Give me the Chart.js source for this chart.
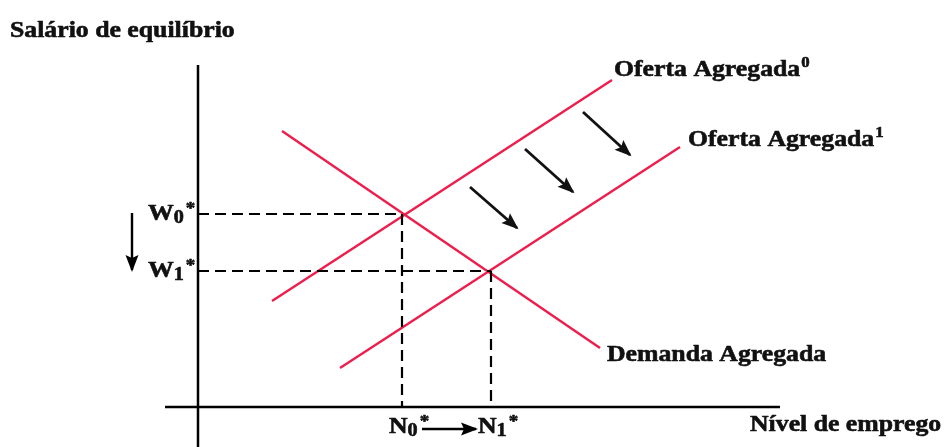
<!DOCTYPE html>
<html>
<head>
<meta charset="utf-8">
<script src="https://cdn.jsdelivr.net/npm/chart.js@4/dist/chart.umd.min.js"></script>
<style>
  body { margin: 0; background: #fff; }
  #wrap { width: 945px; height: 447px; }
</style>
</head>
<body>
<div id="wrap"><canvas id="c"></canvas></div>
<script>
// curves (x = nível de emprego, y = salário)
const oferta0 = [{x: 3.7, y: 5.3}, {x: 20.7, y: 16.35}];
const oferta1 = [{x: 7.1, y: 1.95}, {x: 24.1, y: 13.0}];
const demanda = [{x: 4.2, y: 13.8}, {x: 20.1, y: 2.95}];

// equilibrium values
const emprego = [10.2, 14.65];   // N0*, N1*
const salario = [9.65, 6.8];     // W0*, W1*

// axes extents
const eixoY = [{x: 0, y: -2.2}, {x: 0, y: 17.1}];
const eixoX = [{x: -1.65, y: 0}, {x: 29.1, y: 0}];

// arrows showing the shift of the supply curve
const setasOferta = [
    [{x: 13.6, y: 11.0}, {x: 15.95, y: 8.95}],
    [{x: 16.35, y: 12.9}, {x: 18.75, y: 10.75}],
    [{x: 19.25, y: 14.75}, {x: 21.6, y: 12.6}]
];
const setaSalario = [{x: -3.3, y: 9.7}, {x: -3.3, y: 6.85}];
const setaEmprego = [{x: 11.2, y: -1.1}, {x: 13.9, y: -1.1}];

const RED = '#ee1d4b';

function seg(data, color, width, dash, arrow) {
    return {
        data: data, showLine: true, borderColor: color, borderWidth: width,
        borderDash: dash || [], pointRadius: 0, fill: false, arrow: !!arrow
    };
}

const datasets = [
    seg(eixoY, '#000', 2.5),
    seg(eixoX, '#000', 2.5),
    seg([{x: 0, y: salario[0]}, {x: emprego[0], y: salario[0]}], '#000', 2.2, [11, 6]),
    seg([{x: emprego[0], y: salario[0]}, {x: emprego[0], y: 0}], '#000', 2.2, [11, 6]),
    seg([{x: 0, y: salario[1]}, {x: emprego[1], y: salario[1]}], '#000', 2.2, [11, 6]),
    seg([{x: emprego[1], y: salario[1]}, {x: emprego[1], y: 0}], '#000', 2.2, [11, 6]),
    seg(oferta0, RED, 2.4),
    seg(oferta1, RED, 2.4),
    seg(demanda, RED, 2.4),
    seg(setaSalario, '#000', 2.4, null, true),
    seg(setaEmprego, '#000', 2.6, null, true)
];
setasOferta.forEach(s => datasets.push(seg(s, '#111', 2.8, null, true)));

const SX = 1.12;
function txt(ctx, s, x, y, size, weight) {
    ctx.save();
    ctx.font = (weight || 'bold') + ' ' + size + 'px "Liberation Serif", "Times New Roman", serif';
    ctx.translate(x, y);
    ctx.scale(SX, 1);
    ctx.fillStyle = '#111';
    ctx.strokeStyle = '#111';
    ctx.lineWidth = 0.6;
    ctx.lineJoin = 'round';
    ctx.textBaseline = 'alphabetic';
    ctx.fillText(s, 0, 0);
    ctx.strokeText(s, 0, 0);
    const w = ctx.measureText(s).width * SX;
    ctx.restore();
    return w;
}

const labels = {
    id: 'labels',
    afterDatasetsDraw(chart) {
        const ctx = chart.ctx;
        const xs = chart.scales.x, ys = chart.scales.y;
        const px = v => xs.getPixelForValue(v);
        const py = v => ys.getPixelForValue(v);

        // arrow heads
        chart.data.datasets.forEach((ds, i) => {
            if (!ds.arrow) return;
            const pts = chart.getDatasetMeta(i).data;
            const a = pts[0], b = pts[pts.length - 1];
            const ang = Math.atan2(b.y - a.y, b.x - a.x);
            const L = 15, W = 6.5;
            ctx.save();
            ctx.fillStyle = ds.borderColor;
            ctx.translate(b.x, b.y);
            ctx.rotate(ang);
            ctx.beginPath();
            ctx.moveTo(2, 0);
            ctx.lineTo(-L, -W);
            ctx.lineTo(-L + 3, 0);
            ctx.lineTo(-L, W);
            ctx.closePath();
            ctx.fill();
            ctx.restore();
        });

        txt(ctx, 'Salário de equilíbrio', 10, 37, 23);

        let w = txt(ctx, 'Oferta Agregada', px(oferta0[1].x) + 2, py(oferta0[1].y) - 4, 23);
        txt(ctx, '0', px(oferta0[1].x) + 2 + w + 1, py(oferta0[1].y) - 13, 15);
        w = txt(ctx, 'Oferta Agregada', px(oferta1[1].x) + 8, py(oferta1[1].y) - 1, 23);
        txt(ctx, '1', px(oferta1[1].x) + 8 + w + 1, py(oferta1[1].y) - 10, 15);

        txt(ctx, 'Demanda Agregada', px(demanda[1].x) + 7, py(demanda[1].y) + 13, 23);
        txt(ctx, 'Nível de emprego', px(eixoX[1].x) - 30, py(0) + 24, 23);

        // W0*, W1*
        salario.forEach((v, i) => {
            const x0 = px(0) - 50, y0 = py(v) + 6;
            const ww = txt(ctx, 'W', x0, y0, 23);
            const sw = txt(ctx, String(i), x0 + ww, y0 + 3, 18);
            txt(ctx, '*', x0 + ww + sw + 2, y0 - 7, 17, 'bold');
        });
        // N0*, N1*
        emprego.forEach((v, i) => {
            const x0 = px(v) - 13, y0 = py(0) + 26;
            const nw = txt(ctx, 'N', x0, y0, 23);
            const sw = txt(ctx, String(i), x0 + nw, y0 + 3, 18);
            txt(ctx, '*', x0 + nw + sw + 2, y0 - 7, 17, 'bold');
        });
    }
};

new Chart(document.getElementById('c'), {
    type: 'scatter',
    data: { datasets: datasets },
    options: {
        responsive: true,
        maintainAspectRatio: false,
        animation: false,
        layout: { padding: 0 },
        plugins: { legend: { display: false }, tooltip: { enabled: false } },
        scales: {
            x: { type: 'linear', display: false, min: -9.9, max: 37.35 },
            y: { type: 'linear', display: false, min: -2, max: 20.35 }
        }
    },
    plugins: [labels]
});
</script>
</body>
</html>
